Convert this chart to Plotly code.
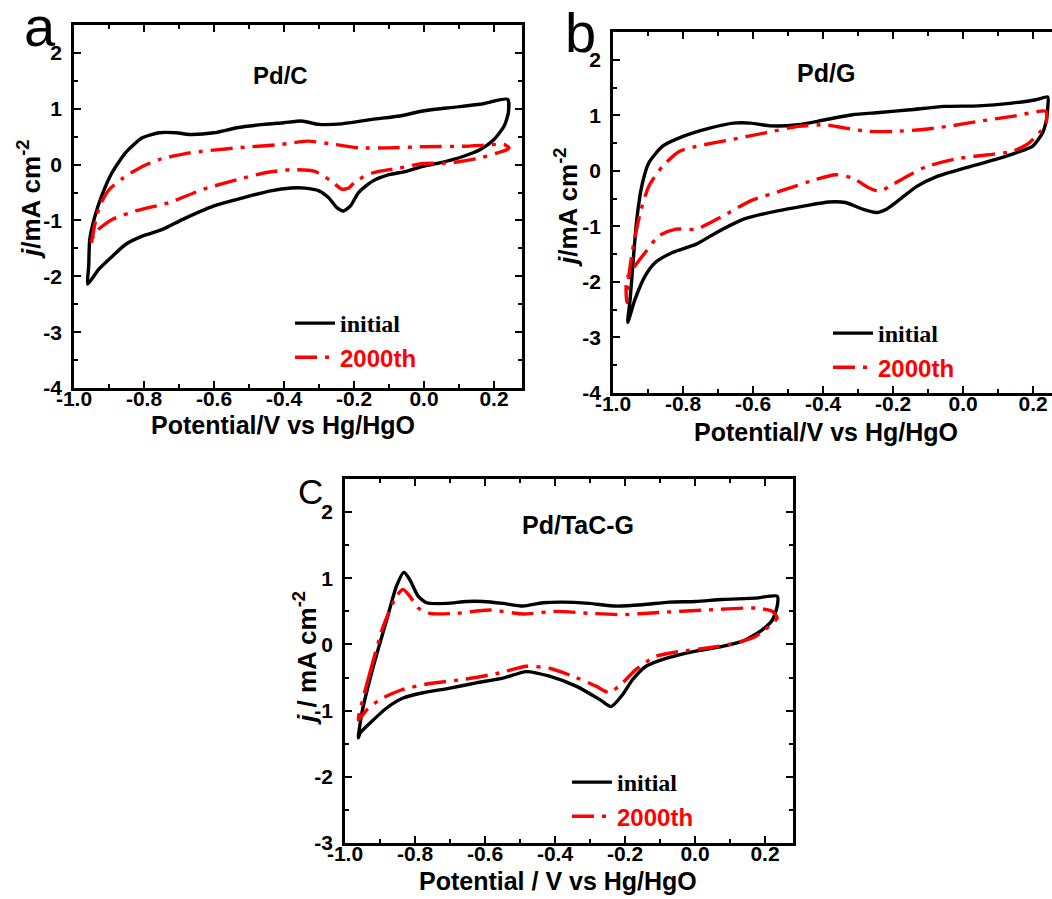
import plotly.graph_objects as go

# ---------------- data ----------------
# Panel a: Pd/C
a_init_x = [-0.961, -0.958, -0.955, -0.94, -0.921, -0.892, -0.853, -0.805, -0.757, -0.708, -0.67, -0.60, -0.534, -0.457, -0.40, -0.35, -0.30, -0.235, -0.148, -0.07, -0.003, 0.074, 0.16, 0.239,
            0.241, 0.229, 0.20, 0.161, 0.113, 0.045, -0.003, -0.05, -0.10, -0.148, -0.187, -0.21, -0.23, -0.249, -0.273, -0.30, -0.341, -0.38, -0.438, -0.515, -0.60, -0.689, -0.747, -0.805, -0.853, -0.89, -0.93, -0.961]
a_init_y = [-2.14, -1.82, -1.34, -0.92, -0.56, -0.15, 0.21, 0.48, 0.57, 0.57, 0.54, 0.57, 0.66, 0.72, 0.75, 0.78, 0.72, 0.73, 0.81, 0.87, 0.96, 1.02, 1.08, 1.17,
            0.93, 0.69, 0.45, 0.27, 0.15, 0.03, -0.03, -0.12, -0.18, -0.30, -0.50, -0.74, -0.83, -0.77, -0.59, -0.47, -0.42, -0.42, -0.47, -0.59, -0.74, -0.98, -1.16, -1.28, -1.43, -1.64, -1.88, -2.14]
a_2000_x = [-0.95, -0.94, -0.925, -0.90, -0.86, -0.81, -0.757, -0.67, -0.534, -0.41, -0.331, -0.254, -0.187, -0.10, -0.003, 0.123, 0.229, 0.243,
            0.238, 0.21, 0.161, 0.074, -0.003, -0.07, -0.148, -0.196, -0.215, -0.235, -0.264, -0.312, -0.38, -0.457, -0.534, -0.63, -0.728, -0.824, -0.89, -0.93, -0.95]
a_2000_y = [-1.40, -1.05, -0.72, -0.45, -0.24, -0.05, 0.09, 0.21, 0.30, 0.36, 0.42, 0.36, 0.30, 0.30, 0.32, 0.33, 0.36, 0.30,
            0.27, 0.21, 0.12, 0.03, 0.02, -0.06, -0.15, -0.30, -0.42, -0.44, -0.30, -0.12, -0.09, -0.15, -0.27, -0.44, -0.68, -0.83, -0.98, -1.16, -1.34]

# Panel b: Pd/G
b_init_x = [-0.958, -0.951, -0.942, -0.932, -0.918, -0.898, -0.859, -0.80, -0.724, -0.656, -0.607, -0.549, -0.471, -0.394, -0.316, -0.239, -0.151, -0.054, 0.043, 0.14, 0.208, 0.242,
            0.242, 0.238, 0.227, 0.198, 0.149, 0.091, 0.004, -0.074, -0.132, -0.18, -0.219, -0.248, -0.287, -0.336, -0.384, -0.452, -0.53, -0.627, -0.704, -0.762, -0.83, -0.879, -0.908, -0.937, -0.958]
b_init_y = [-2.73, -2.31, -1.59, -0.87, -0.28, 0.14, 0.44, 0.62, 0.77, 0.86, 0.86, 0.81, 0.83, 0.92, 1.01, 1.05, 1.10, 1.16, 1.17, 1.22, 1.28, 1.33,
            1.16, 0.92, 0.68, 0.44, 0.32, 0.20, 0.05, -0.10, -0.28, -0.51, -0.69, -0.75, -0.69, -0.57, -0.56, -0.63, -0.72, -0.87, -1.11, -1.32, -1.47, -1.65, -1.89, -2.31, -2.73]
b_2000_x = [-0.961, -0.956, -0.942, -0.922, -0.898, -0.859, -0.811, -0.762, -0.665, -0.568, -0.471, -0.394, -0.336, -0.268, -0.20, -0.122, -0.045, 0.043, 0.14, 0.237,
            0.237, 0.217, 0.188, 0.14, 0.072, -0.016, -0.103, -0.161, -0.21, -0.239, -0.268, -0.316, -0.365, -0.423, -0.51, -0.607, -0.685, -0.762, -0.82, -0.869, -0.908, -0.937, -0.961, -0.961]
b_2000_y = [-2.37, -1.95, -1.35, -0.75, -0.28, 0.08, 0.35, 0.44, 0.56, 0.68, 0.80, 0.83, 0.77, 0.71, 0.71, 0.74, 0.80, 0.89, 0.98, 1.07,
            0.86, 0.68, 0.50, 0.35, 0.29, 0.22, 0.08, -0.10, -0.28, -0.37, -0.31, -0.13, -0.07, -0.16, -0.34, -0.54, -0.81, -1.05, -1.05, -1.17, -1.47, -1.71, -1.95, -2.37]

# Panel c: Pd/TaC-G
c_init_x = [-0.962, -0.952, -0.919, -0.881, -0.853, -0.832, -0.815, -0.791, -0.767, -0.71, -0.653, -0.606, -0.549, -0.492, -0.435, -0.378, -0.302, -0.226, -0.15, -0.074, 0.002, 0.078, 0.173, 0.235,
            0.235, 0.221, 0.192, 0.145, 0.078, 0.002, -0.083, -0.14, -0.178, -0.207, -0.24, -0.273, -0.34, -0.416, -0.482, -0.549, -0.625, -0.70, -0.777, -0.834, -0.881, -0.929, -0.957, -0.962]
c_init_y = [-1.41, -1.04, -0.33, 0.37, 0.88, 1.09, 0.98, 0.73, 0.63, 0.62, 0.65, 0.65, 0.62, 0.58, 0.63, 0.64, 0.62, 0.58, 0.60, 0.64, 0.65, 0.68, 0.70, 0.73,
            0.58, 0.37, 0.22, 0.07, -0.03, -0.10, -0.21, -0.33, -0.53, -0.76, -0.94, -0.83, -0.63, -0.48, -0.41, -0.51, -0.58, -0.66, -0.73, -0.81, -0.96, -1.19, -1.34, -1.41]
c_2000_x = [-0.962, -0.929, -0.891, -0.853, -0.834, -0.815, -0.791, -0.758, -0.682, -0.587, -0.492, -0.397, -0.302, -0.207, -0.112, 0.031, 0.173, 0.221, 0.235,
            0.211, 0.173, 0.116, 0.04, -0.036, -0.112, -0.169, -0.207, -0.245, -0.283, -0.349, -0.416, -0.482, -0.558, -0.663, -0.758, -0.834, -0.90, -0.938, -0.962]
c_2000_y = [-1.14, -0.43, 0.27, 0.73, 0.83, 0.73, 0.55, 0.47, 0.47, 0.52, 0.46, 0.50, 0.47, 0.45, 0.48, 0.52, 0.55, 0.50, 0.40,
            0.27, 0.12, 0.02, -0.05, -0.10, -0.18, -0.38, -0.58, -0.73, -0.63, -0.48, -0.36, -0.33, -0.43, -0.53, -0.59, -0.68, -0.83, -0.99, -1.14]

x_tick_vals = [-1.0, -0.8, -0.6, -0.4, -0.2, 0.0, 0.2]
x_tick_text = ["-1.0", "-0.8", "-0.6", "-0.4", "-0.2", "0.0", "0.2"]
y_tick_vals_ab = [-4, -3, -2, -1, 0, 1, 2]
y_tick_text_ab = ["-4", "-3", "-2", "-1", "0", "1", "2"]
y_tick_vals_c = [-3, -2, -1, 0, 1, 2]
y_tick_text_c = ["-3", "-2", "-1", "0", "1", "2"]

panel_letters = ["a", "b", "C"]
panel_names = ["Pd/C", "Pd/G", "Pd/TaC-G"]
series_names = ["initial", "2000th"]

# ---------------- figure ----------------
W, H = 1052, 899
SANS = "Liberation Sans"
SERIF = "Liberation Serif"
LW = 3.4
RED_DASH = "22px,8px,4px,8px"

def px_x(p):
    return p / W

def px_y(p):
    return 1 - p / H

fig = go.Figure()

panels = [
    ("x", "y", "legend", a_init_x, a_init_y, a_2000_x, a_2000_y),
    ("x2", "y2", "legend2", b_init_x, b_init_y, b_2000_x, b_2000_y),
    ("x3", "y3", "legend3", c_init_x, c_init_y, c_2000_x, c_2000_y),
]
init_label = f"<b><span style='font-family:{SERIF}'>{series_names[0]}</span></b>"
red_label = f"<b><span style='color:#ff0000'>{series_names[1]}</span></b>"
for xa, ya, lg, ix, iy, rx, ry in panels:
    fig.add_trace(go.Scatter(x=ix, y=iy, xaxis=xa, yaxis=ya, mode="lines",
                             line=dict(color="black", width=LW, shape="spline", smoothing=0.6),
                             name=init_label, legend=lg, showlegend=True, hoverinfo="skip"))
    fig.add_trace(go.Scatter(x=rx, y=ry, xaxis=xa, yaxis=ya, mode="lines",
                             line=dict(color="#ff0000", width=LW, dash=RED_DASH, shape="spline", smoothing=0.6),
                             name=red_label, legend=lg, showlegend=True, hoverinfo="skip"))

tickfont = dict(family=SANS, size=21, color="black", weight="bold")

def bold(lst):
    return [f"<b>{t}</b>" for t in lst]

def xaxis(domain, rng, anchor):
    return dict(domain=domain, range=rng, anchor=anchor, tickvals=x_tick_vals, ticktext=bold(x_tick_text),
                ticks="inside", ticklen=7, tickwidth=2, tickcolor="black", ticklabelstandoff=-10,
                showline=True, linewidth=2.5, linecolor="black", mirror="ticks", automargin=False,
                showgrid=False, zeroline=False, tickfont=tickfont,
                minor=dict(dtick=0.1, tick0=0, ticks="inside", ticklen=4, tickwidth=2, tickcolor="black", showgrid=False))

def yaxis(domain, rng, anchor, tv, tt, mirror="ticks"):
    return dict(domain=domain, range=rng, anchor=anchor, tickvals=tv, ticktext=bold(tt),
                ticks="inside", ticklen=7, tickwidth=2, tickcolor="black", ticklabelstandoff=5,
                showline=True, linewidth=2.5, linecolor="black", mirror=mirror, automargin=False,
                showgrid=False, zeroline=False, tickfont=tickfont,
                minor=dict(dtick=0.5, tick0=0, ticks="inside", ticklen=4, tickwidth=2, tickcolor="black", showgrid=False))

fig.update_layout(
    width=W, height=H,
    margin=dict(l=0, r=0, t=0, b=0, pad=0, autoexpand=False),
    paper_bgcolor="white", plot_bgcolor="white",
    xaxis=xaxis([px_x(74), px_x(522)], [-1.0, 0.28], "y"),
    yaxis=yaxis([px_y(388), px_y(25)], [-4, 2.5], "x", y_tick_vals_ab, y_tick_text_ab),
    xaxis2=xaxis([px_x(613), 1.0], [-1.0, 0.254], "y2"),
    yaxis2=yaxis([px_y(393), px_y(32)], [-4, 2.5], "x2", y_tick_vals_ab, y_tick_text_ab, mirror=False),
    xaxis3=xaxis([px_x(345), px_x(793)], [-1.0, 0.28], "y3"),
    yaxis3=yaxis([px_y(843), px_y(479)], [-3, 2.5], "x3", y_tick_vals_c, y_tick_text_c),
    showlegend=True,
    hovermode=False,
)

legend_common = dict(xanchor="left", yanchor="top", bgcolor="rgba(0,0,0,0)", borderwidth=0,
                     font=dict(family=SANS, size=24, color="black"), tracegroupgap=0,
                     itemwidth=40, traceorder="normal")
fig.update_layout(
    legend=dict(x=px_x(290), y=px_y(301), **legend_common),
    legend2=dict(x=px_x(828), y=px_y(311), **legend_common),
    legend3=dict(x=px_x(567), y=px_y(760), **legend_common),
)

annotations = []
def ann(text, x, y, size, angle=0, family=SANS, bold=True):
    annotations.append(dict(text=(f"<b>{text}</b>" if bold else text), x=px_x(x), y=px_y(y), xref="paper", yref="paper",
                            showarrow=False, xanchor="center", yanchor="middle", textangle=angle,
                            font=dict(family=family, size=size, color="black")))

# panel letters
ann(panel_letters[0], 40, 26, 56, bold=False)
ann(panel_letters[1], 580, 33, 56, bold=False)
ann(panel_letters[2], 310, 491, 35, bold=False)
# panel names
ann(panel_names[0], 280, 75, 24)
ann(panel_names[1], 826, 73, 25)
ann(panel_names[2], 578, 525, 25)
# x titles
ann("Potential/V vs Hg/HgO", 283, 425, 25)
ann("Potential/V vs Hg/HgO", 826, 432, 25)
ann("Potential / V vs Hg/HgO", 558, 881, 25)
# y titles
ann("<i>j</i>/mA cm<sup>-2</sup>", 29, 200, 26, angle=-90)
ann("<i>j</i>/mA cm<sup>-2</sup>", 567, 208, 26, angle=-90)
ann("<i>j</i> / mA cm<sup>-2</sup>", 305, 658, 26, angle=-90)

fig.update_layout(annotations=annotations)

fig.write_html("out.html", config={"displayModeBar": False, "responsive": False},
               post_script="document.documentElement.style.margin='0';document.body.style.margin='0';document.body.style.padding='0';document.body.style.overflow='hidden';")
